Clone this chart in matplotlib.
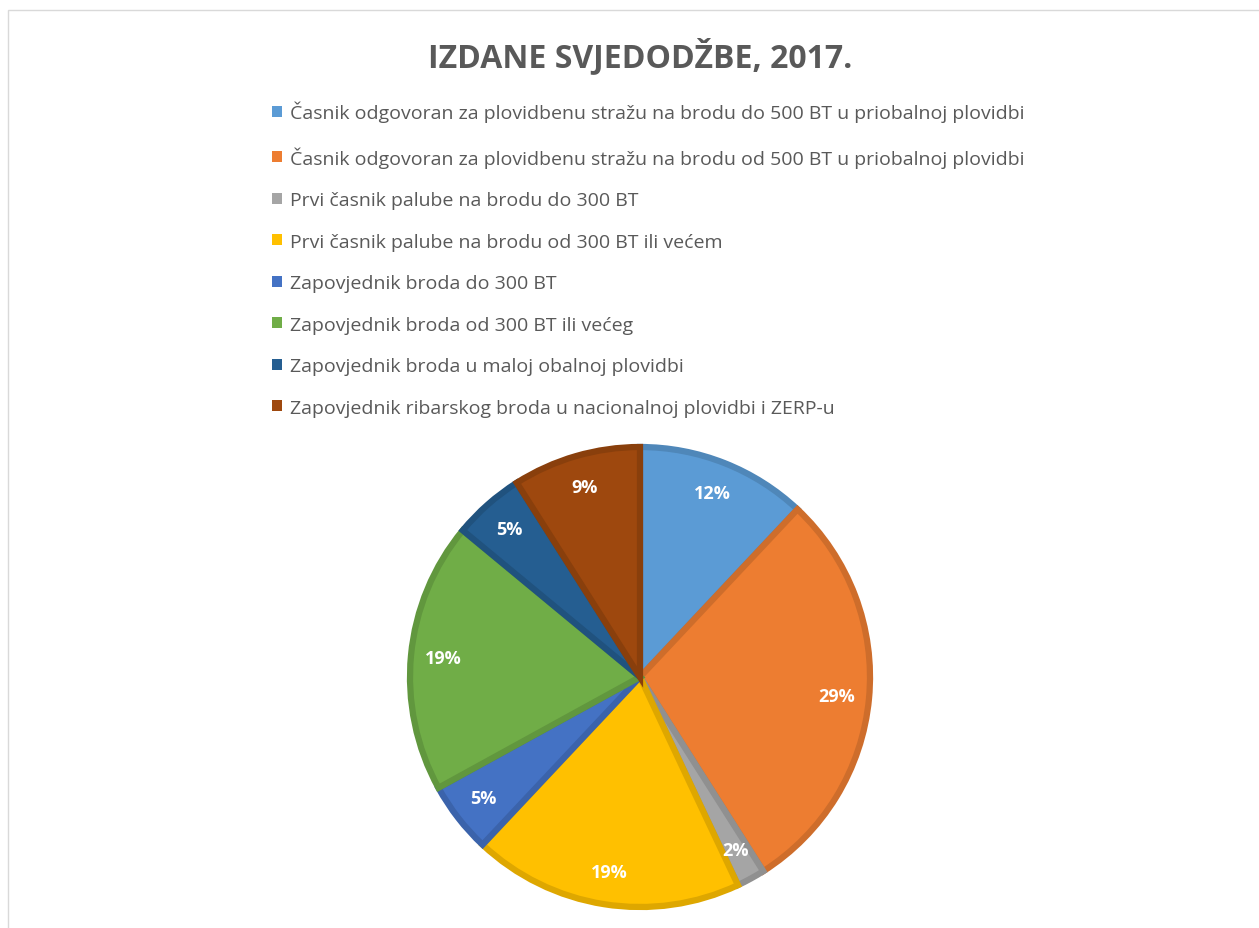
import matplotlib
matplotlib.use("Agg")
import matplotlib.pyplot as plt
from matplotlib.patches import Rectangle
import matplotlib.colors as mcolors

categories = [
    "Časnik odgovoran za plovidbenu stražu na brodu do 500 BT u priobalnoj plovidbi",
    "Časnik odgovoran za plovidbenu stražu na brodu od 500 BT u priobalnoj plovidbi",
    "Prvi časnik palube na brodu do 300 BT",
    "Prvi časnik palube na brodu od 300 BT ili većem",
    "Zapovjednik broda do 300 BT",
    "Zapovjednik broda od 300 BT ili većeg",
    "Zapovjednik broda u maloj obalnoj plovidbi",
    "Zapovjednik ribarskog broda u nacionalnoj plovidbi i ZERP-u",
]
values = [12, 29, 2, 19, 5, 19, 5, 9]
colors = ["#5B9BD5", "#ED7D31", "#A5A5A5", "#FFC000", "#4472C4", "#70AD47", "#255E91", "#9E480E"]
title = "IZDANE SVJEDODŽBE, 2017."

plt.rcParams['font.family'] = ['Open Sans', 'DejaVu Sans']

W, H = 1259, 929
fig = plt.figure(figsize=(W / 100, H / 100), dpi=100)

# chart border
fig.patches.append(Rectangle((8 / W, -0.01), 1.1, 1 - 11 / H + 0.01, transform=fig.transFigure,
                             fill=False, edgecolor="#D9D9D9", linewidth=1.0))

def darker(c, f=0.87):
    r, g, b = mcolors.to_rgb(c)
    return (r * f, g * f, b * f)

cx, cy, R = 640, 678, 230
ax = fig.add_axes([(cx - R) / W, 1 - (cy + R) / H, 2 * R / W, 2 * R / H])
wedges, texts, autotexts = ax.pie(
    values, colors=colors, startangle=90, counterclock=False,
    autopct=lambda p: f"{p:.0f}%", pctdistance=0.86,
    wedgeprops=dict(linewidth=4.5, edgecolor="white"),
    textprops=dict(color="white", fontsize=13, fontweight="bold"),
)
for w, c in zip(wedges, colors):
    w.set_edgecolor(darker(c))
ax.set_xlim(-1, 1)
ax.set_ylim(-1, 1)
ax.set_aspect("equal")
ax.axis("off")

fig.text(cx / W, 1 - 57 / H, title, ha="center", va="center", fontsize=23,
         fontweight="bold", color="#595959")

leg = fig.legend(wedges, categories, loc="upper left", bbox_to_anchor=(272 / W, 1 - 102 / H),
                 frameon=False, fontsize=14, handlelength=0.5, handleheight=0.5,
                 handletextpad=0.45, labelspacing=1.21, borderpad=0, borderaxespad=0)
for t in leg.get_texts():
    t.set_color("#595959")
for h, c in zip(leg.legend_handles, colors):
    h.set_edgecolor(c)
    h.set_linewidth(0)

fig.savefig("out.png", dpi=100)
